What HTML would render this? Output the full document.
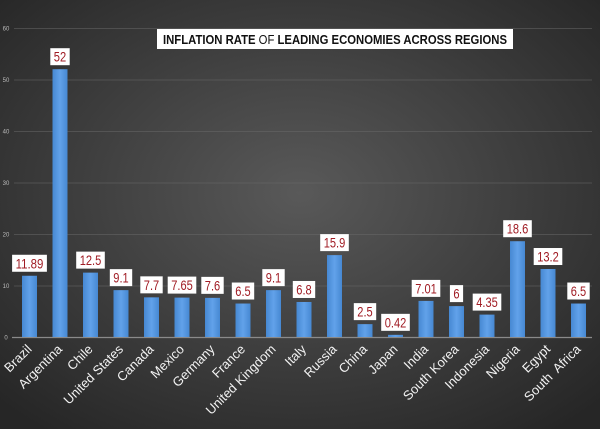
<!DOCTYPE html>
<html><head><style>
html,body{margin:0;padding:0;background:#2b2b2b;}
svg{display:block;font-family:"Liberation Sans",sans-serif;}
</style></head><body>
<svg width="600" height="429" viewBox="0 0 600 429" xmlns="http://www.w3.org/2000/svg">
<defs>
<radialGradient id="bg" cx="50%" cy="45%" r="70%">
<stop offset="0" stop-color="#595959"/><stop offset="1" stop-color="#262626"/>
</radialGradient>
<linearGradient id="bar" x1="0" x2="1" y1="0" y2="0">
<stop offset="0" stop-color="#4688d2"/><stop offset="0.5" stop-color="#62a2ea"/><stop offset="1" stop-color="#4688d2"/>
</linearGradient>
</defs>
<rect width="600" height="429" fill="url(#bg)"/>
<g stroke="#6a6a6a" stroke-width="0.6">
<line x1="14" x2="592" y1="28.5" y2="28.5"/>
<line x1="14" x2="592" y1="80" y2="80"/>
<line x1="14" x2="592" y1="131.5" y2="131.5"/>
<line x1="14" x2="592" y1="183" y2="183"/>
<line x1="14" x2="592" y1="234.5" y2="234.5"/>
<line x1="14" x2="592" y1="286" y2="286"/>
</g>
<line x1="12" x2="592" y1="337.5" y2="337.5" stroke="#8a8a8a" stroke-width="1.2"/>
<g fill="#bbb" font-size="6" text-anchor="middle">
<text x="6" y="30.5">60</text><text x="6" y="82">50</text><text x="6" y="133.5">40</text>
<text x="6" y="185">30</text><text x="6" y="236.5">20</text><text x="6" y="288">10</text><text x="6" y="339.5">0</text>
</g>
<rect x="157" y="29" width="356" height="20" fill="#fff"/>
<text x="335" y="44" text-anchor="middle" font-size="13" font-weight="bold" fill="#111" textLength="344" lengthAdjust="spacingAndGlyphs">INFLATION RATE <tspan font-weight="normal">OF</tspan> LEADING ECONOMIES ACROSS REGIONS</text>
<g id="bars"></g>
</svg>
<script>
var d=[["Brazil",11.89],["Argentina",52],["Chile",12.5],["United States",9.1],["Canada",7.7],["Mexico",7.65],["Germany",7.6],["France",6.5],["United Kingdom",9.1],["Italy",6.8],["Russia",15.9],["China",2.5],["Japan",0.42],["India",7.01],["South Korea",6],["Indonesia",4.35],["Nigeria",18.6],["Egypt",13.2],["South  Africa",6.5]];
var g=document.getElementById("bars"),h="";
d.forEach(function(e,i){
 var c=29.5+30.5*i,y=337-e[1]*5.15;
 h+='<rect x="'+(c-7.5)+'" y="'+y+'" width="15" height="'+(337-y)+'" fill="url(#bar)"/>';
 var s=String(e[1]),tl=s.replace(".","").length*6.2+(s.indexOf(".")>=0?3:0),w=tl+7;
 h+='<rect x="'+(c-w/2)+'" y="'+(y-21)+'" width="'+w+'" height="17" fill="#fff"/>';
 h+='<text x="'+c+'" y="'+(y-7.5)+'" text-anchor="middle" font-size="14" fill="#a01c24" textLength="'+tl+'" lengthAdjust="spacingAndGlyphs">'+s+'</text>';
 h+='<text transform="translate('+(c+3)+',350) rotate(-45)" text-anchor="end" font-size="13" fill="#f2f2f2" xml:space="preserve">'+e[0]+'</text>';
});
g.innerHTML=h;
</script>
</body></html>
